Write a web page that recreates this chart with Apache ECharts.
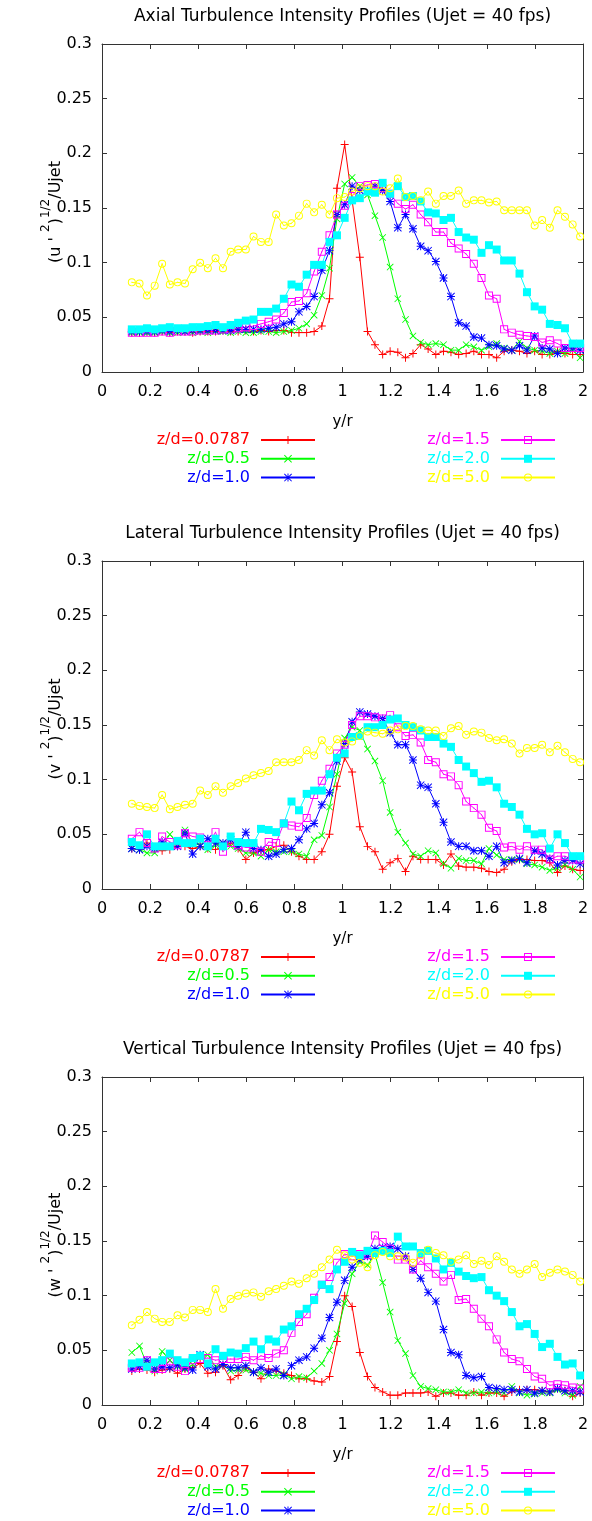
<!DOCTYPE html>
<html>
<head>
<meta charset="utf-8">
<script src="https://cdn.jsdelivr.net/npm/echarts/dist/echarts.min.js"></script>
<style>
html, body { margin: 0; padding: 0; background: #fff; }
#chart { width: 592px; height: 1521px; }
</style>
</head>
<body>
<div id="chart"></div>
<script>
// measurement positions y/r (same grid for every profile)
var xs = [
    0.124, 0.156, 0.187, 0.219, 0.250, 0.282, 0.314, 0.345, 0.377, 0.408,
    0.440, 0.472, 0.503, 0.535, 0.566, 0.598, 0.630, 0.661, 0.693, 0.724,
    0.756, 0.788, 0.819, 0.851, 0.882, 0.914, 0.946, 0.977, 1.009, 1.040,
    1.072, 1.104, 1.135, 1.167, 1.198, 1.230, 1.262, 1.293, 1.325, 1.356,
    1.388, 1.420, 1.451, 1.483, 1.514, 1.546, 1.578, 1.609, 1.641, 1.672,
    1.704, 1.736, 1.767, 1.799, 1.830, 1.862, 1.894, 1.925, 1.957, 1.988
];

var names = ['z/d=0.0787', 'z/d=0.5', 'z/d=1.0', 'z/d=1.5', 'z/d=2.0', 'z/d=5.0'];
var xTicks = [0, 0.2, 0.4, 0.6, 0.8, 1, 1.2, 1.4, 1.6, 1.8, 2];
var yTicks = [0, 0.05, 0.1, 0.15, 0.2, 0.25, 0.3];
var titles = [
    'Axial Turbulence Intensity Profiles (Ujet = 40 fps)',
    'Lateral Turbulence Intensity Profiles (Ujet = 40 fps)',
    'Vertical Turbulence Intensity Profiles (Ujet = 40 fps)'
];
var components = ['u', 'v', 'w'];

// axial (u')
var axialZ0787 = [
    0.036, 0.036, 0.037, 0.036, 0.037, 0.036, 0.037, 0.037, 0.036, 0.037,
    0.037, 0.037, 0.038, 0.037, 0.037, 0.038, 0.037, 0.038, 0.037, 0.038,
    0.038, 0.036, 0.036, 0.036, 0.037, 0.042, 0.067, 0.168, 0.208, 0.157,
    0.105, 0.037, 0.025, 0.016, 0.019, 0.018, 0.013, 0.017, 0.025, 0.021,
    0.016, 0.019, 0.018, 0.016, 0.017, 0.019, 0.016, 0.016, 0.013, 0.019,
    0.020, 0.019, 0.017, 0.019, 0.016, 0.016, 0.019, 0.017, 0.016, 0.016
];
var axialZ05 = [
    0.036, 0.036, 0.036, 0.036, 0.037, 0.036, 0.036, 0.037, 0.036, 0.037,
    0.036, 0.037, 0.037, 0.036, 0.037, 0.036, 0.036, 0.037, 0.037, 0.036,
    0.037, 0.038, 0.040, 0.044, 0.052, 0.070, 0.095, 0.140, 0.172, 0.178,
    0.170, 0.162, 0.143, 0.123, 0.096, 0.067, 0.048, 0.033, 0.027, 0.025,
    0.026, 0.025, 0.020, 0.020, 0.025, 0.023, 0.020, 0.023, 0.026, 0.022,
    0.020, 0.028, 0.022, 0.020, 0.019, 0.017, 0.019, 0.017, 0.020, 0.013
];
var axialZ10 = [
    0.037, 0.037, 0.037, 0.037, 0.038, 0.037, 0.038, 0.037, 0.038, 0.038,
    0.038, 0.038, 0.038, 0.038, 0.039, 0.039, 0.039, 0.039, 0.040, 0.041,
    0.044, 0.046, 0.055, 0.060, 0.069, 0.093, 0.111, 0.144, 0.153, 0.170,
    0.166, 0.166, 0.170, 0.166, 0.156, 0.132, 0.144, 0.131, 0.115, 0.111,
    0.101, 0.086, 0.069, 0.045, 0.042, 0.032, 0.031, 0.025, 0.024, 0.021,
    0.020, 0.024, 0.020, 0.033, 0.022, 0.021, 0.017, 0.022, 0.022, 0.020
];
var axialZ15 = [
    0.036, 0.036, 0.036, 0.036, 0.037, 0.036, 0.037, 0.037, 0.037, 0.038,
    0.038, 0.038, 0.039, 0.039, 0.040, 0.041, 0.042, 0.044, 0.046, 0.048,
    0.054, 0.064, 0.065, 0.072, 0.092, 0.110, 0.125, 0.144, 0.152, 0.161,
    0.170, 0.171, 0.172, 0.168, 0.163, 0.154, 0.149, 0.153, 0.144, 0.137,
    0.128, 0.128, 0.118, 0.113, 0.108, 0.099, 0.086, 0.070, 0.067, 0.039,
    0.036, 0.034, 0.033, 0.032, 0.027, 0.029, 0.026, 0.022, 0.022, 0.022
];
var axialZ20 = [
    0.039, 0.039, 0.040, 0.039, 0.040, 0.041, 0.040, 0.040, 0.041, 0.041,
    0.042, 0.043, 0.041, 0.043, 0.045, 0.047, 0.048, 0.055, 0.055, 0.058,
    0.067, 0.080, 0.078, 0.089, 0.098, 0.098, 0.119, 0.125, 0.141, 0.157,
    0.159, 0.165, 0.164, 0.173, 0.163, 0.170, 0.160, 0.161, 0.156, 0.146,
    0.145, 0.139, 0.141, 0.128, 0.123, 0.121, 0.109, 0.116, 0.112, 0.102,
    0.102, 0.090, 0.073, 0.060, 0.057, 0.044, 0.043, 0.040, 0.026, 0.026
];
var axialZ50 = [
    0.082, 0.081, 0.070, 0.079, 0.099, 0.080, 0.082, 0.081, 0.094, 0.100,
    0.095, 0.104, 0.095, 0.110, 0.112, 0.112, 0.124, 0.119, 0.119, 0.144,
    0.134, 0.136, 0.143, 0.154, 0.146, 0.153, 0.144, 0.159, 0.160, 0.165,
    0.168, 0.170, 0.170, 0.165, 0.168, 0.177, 0.160, 0.161, 0.157, 0.165,
    0.154, 0.161, 0.161, 0.166, 0.154, 0.157, 0.157, 0.155, 0.156, 0.148,
    0.148, 0.148, 0.148, 0.134, 0.139, 0.132, 0.148, 0.142, 0.135, 0.124
];

// lateral (v')
var lateralZ0787 = [
    0.037, 0.036, 0.042, 0.036, 0.035, 0.036, 0.039, 0.039, 0.037, 0.039,
    0.037, 0.036, 0.039, 0.042, 0.037, 0.027, 0.033, 0.035, 0.036, 0.039,
    0.040, 0.034, 0.030, 0.027, 0.027, 0.034, 0.050, 0.094, 0.120, 0.107,
    0.057, 0.039, 0.034, 0.018, 0.024, 0.028, 0.016, 0.030, 0.027, 0.027,
    0.027, 0.022, 0.032, 0.021, 0.020, 0.020, 0.019, 0.016, 0.015, 0.018,
    0.025, 0.027, 0.027, 0.026, 0.026, 0.024, 0.015, 0.021, 0.018, 0.017
];
var lateralZ05 = [
    0.037, 0.036, 0.033, 0.033, 0.039, 0.050, 0.042, 0.054, 0.042, 0.040,
    0.036, 0.040, 0.042, 0.039, 0.037, 0.033, 0.033, 0.030, 0.036, 0.034,
    0.034, 0.034, 0.032, 0.030, 0.045, 0.049, 0.075, 0.105, 0.138, 0.148,
    0.145, 0.128, 0.117, 0.099, 0.070, 0.052, 0.042, 0.032, 0.030, 0.035,
    0.033, 0.023, 0.019, 0.028, 0.026, 0.026, 0.023, 0.037, 0.031, 0.027,
    0.027, 0.027, 0.023, 0.022, 0.020, 0.017, 0.019, 0.022, 0.018, 0.011
];
var lateralZ10 = [
    0.037, 0.036, 0.039, 0.037, 0.043, 0.039, 0.039, 0.051, 0.032, 0.039,
    0.046, 0.042, 0.042, 0.045, 0.039, 0.052, 0.037, 0.036, 0.030, 0.032,
    0.036, 0.037, 0.045, 0.055, 0.060, 0.077, 0.088, 0.117, 0.133, 0.153,
    0.162, 0.160, 0.158, 0.156, 0.143, 0.132, 0.132, 0.118, 0.095, 0.093,
    0.078, 0.061, 0.043, 0.039, 0.039, 0.035, 0.035, 0.030, 0.039, 0.024,
    0.026, 0.028, 0.024, 0.035, 0.032, 0.028, 0.022, 0.026, 0.026, 0.023
];
var lateralZ15 = [
    0.046, 0.052, 0.042, 0.037, 0.048, 0.043, 0.040, 0.051, 0.048, 0.047,
    0.040, 0.052, 0.034, 0.042, 0.040, 0.038, 0.038, 0.034, 0.043, 0.042,
    0.060, 0.058, 0.057, 0.065, 0.086, 0.099, 0.110, 0.124, 0.132, 0.150,
    0.158, 0.158, 0.157, 0.156, 0.159, 0.148, 0.140, 0.141, 0.134, 0.118,
    0.116, 0.105, 0.103, 0.095, 0.080, 0.074, 0.068, 0.056, 0.053, 0.038,
    0.039, 0.036, 0.039, 0.036, 0.036, 0.027, 0.030, 0.030, 0.027, 0.027
];
var lateralZ20 = [
    0.043, 0.040, 0.050, 0.039, 0.039, 0.039, 0.044, 0.042, 0.042, 0.046,
    0.039, 0.046, 0.039, 0.048, 0.043, 0.042, 0.042, 0.055, 0.054, 0.052,
    0.060, 0.080, 0.072, 0.087, 0.090, 0.090, 0.105, 0.120, 0.124, 0.139,
    0.140, 0.148, 0.148, 0.150, 0.155, 0.156, 0.150, 0.148, 0.145, 0.139,
    0.139, 0.133, 0.130, 0.118, 0.112, 0.106, 0.098, 0.099, 0.093, 0.078,
    0.075, 0.068, 0.055, 0.050, 0.051, 0.037, 0.050, 0.042, 0.030, 0.030
];
var lateralZ50 = [
    0.078, 0.076, 0.075, 0.074, 0.086, 0.073, 0.075, 0.077, 0.078, 0.090,
    0.086, 0.094, 0.088, 0.094, 0.097, 0.101, 0.104, 0.106, 0.108, 0.116,
    0.116, 0.116, 0.118, 0.127, 0.122, 0.136, 0.127, 0.137, 0.134, 0.135,
    0.140, 0.144, 0.143, 0.142, 0.145, 0.146, 0.149, 0.149, 0.146, 0.145,
    0.145, 0.140, 0.147, 0.149, 0.141, 0.144, 0.143, 0.138, 0.136, 0.137,
    0.133, 0.124, 0.129, 0.129, 0.132, 0.125, 0.131, 0.125, 0.119, 0.116
];

// vertical (w')
var verticalZ0787 = [
    0.031, 0.033, 0.032, 0.030, 0.032, 0.033, 0.029, 0.033, 0.034, 0.038,
    0.029, 0.030, 0.036, 0.023, 0.027, 0.034, 0.030, 0.024, 0.033, 0.031,
    0.029, 0.027, 0.024, 0.024, 0.022, 0.021, 0.026, 0.058, 0.100, 0.090,
    0.048, 0.026, 0.016, 0.012, 0.009, 0.009, 0.011, 0.011, 0.011, 0.012,
    0.008, 0.011, 0.011, 0.009, 0.009, 0.012, 0.009, 0.011, 0.011, 0.008,
    0.012, 0.014, 0.014, 0.014, 0.013, 0.012, 0.015, 0.013, 0.008, 0.011
];
var verticalZ05 = [
    0.048, 0.054, 0.037, 0.031, 0.049, 0.041, 0.035, 0.033, 0.037, 0.044,
    0.046, 0.035, 0.037, 0.031, 0.032, 0.032, 0.030, 0.029, 0.027, 0.027,
    0.028, 0.024, 0.026, 0.025, 0.031, 0.038, 0.050, 0.065, 0.093, 0.120,
    0.131, 0.128, 0.138, 0.112, 0.085, 0.059, 0.047, 0.027, 0.017, 0.015,
    0.014, 0.012, 0.012, 0.014, 0.011, 0.011, 0.012, 0.011, 0.012, 0.011,
    0.017, 0.011, 0.009, 0.010, 0.011, 0.011, 0.014, 0.011, 0.009, 0.017
];
var verticalZ10 = [
    0.033, 0.035, 0.041, 0.033, 0.035, 0.034, 0.036, 0.034, 0.032, 0.046,
    0.035, 0.033, 0.037, 0.034, 0.034, 0.036, 0.030, 0.034, 0.030, 0.033,
    0.027, 0.036, 0.041, 0.044, 0.052, 0.061, 0.080, 0.094, 0.114, 0.126,
    0.133, 0.136, 0.143, 0.144, 0.145, 0.143, 0.136, 0.124, 0.116, 0.103,
    0.095, 0.069, 0.048, 0.046, 0.027, 0.025, 0.026, 0.016, 0.015, 0.014,
    0.014, 0.012, 0.014, 0.011, 0.013, 0.012, 0.015, 0.013, 0.013, 0.012
];
var verticalZ15 = [
    0.034, 0.034, 0.041, 0.033, 0.033, 0.040, 0.035, 0.031, 0.041, 0.042,
    0.043, 0.041, 0.042, 0.042, 0.042, 0.044, 0.041, 0.045, 0.043, 0.047,
    0.050, 0.066, 0.076, 0.083, 0.098, 0.110, 0.117, 0.130, 0.138, 0.136,
    0.138, 0.137, 0.155, 0.149, 0.143, 0.133, 0.133, 0.124, 0.132, 0.126,
    0.120, 0.113, 0.119, 0.096, 0.097, 0.088, 0.079, 0.072, 0.060, 0.048,
    0.042, 0.040, 0.033, 0.026, 0.024, 0.018, 0.019, 0.018, 0.016, 0.015
];
var verticalZ20 = [
    0.038, 0.039, 0.035, 0.039, 0.041, 0.047, 0.041, 0.039, 0.043, 0.045,
    0.038, 0.051, 0.045, 0.048, 0.047, 0.052, 0.058, 0.051, 0.060, 0.058,
    0.069, 0.072, 0.083, 0.088, 0.096, 0.110, 0.106, 0.124, 0.131, 0.140,
    0.137, 0.141, 0.139, 0.141, 0.139, 0.154, 0.145, 0.145, 0.139, 0.141,
    0.134, 0.124, 0.130, 0.122, 0.118, 0.116, 0.117, 0.105, 0.100, 0.095,
    0.085, 0.072, 0.074, 0.065, 0.053, 0.056, 0.044, 0.037, 0.038, 0.027
];
var verticalZ50 = [
    0.073, 0.078, 0.085, 0.079, 0.076, 0.076, 0.082, 0.080, 0.087, 0.087,
    0.085, 0.106, 0.088, 0.097, 0.100, 0.102, 0.103, 0.099, 0.104, 0.106,
    0.109, 0.113, 0.111, 0.116, 0.120, 0.126, 0.133, 0.142, 0.137, 0.133,
    0.130, 0.126, 0.137, 0.140, 0.136, 0.136, 0.135, 0.130, 0.137, 0.142,
    0.139, 0.137, 0.131, 0.133, 0.137, 0.129, 0.132, 0.128, 0.136, 0.131,
    0.124, 0.120, 0.124, 0.129, 0.117, 0.121, 0.124, 0.122, 0.119, 0.113
];

var panels = [
    [axialZ0787, axialZ05, axialZ10, axialZ15, axialZ20, axialZ50],
    [lateralZ0787, lateralZ05, lateralZ10, lateralZ15, lateralZ20, lateralZ50],
    [verticalZ0787, verticalZ05, verticalZ10, verticalZ15, verticalZ20, verticalZ50]
];

// gnuplot look
var FONT = 'DejaVu Sans';
var colors = ['#ff0000', '#00ff00', '#0000ff', '#ff00ff', '#00ffff', '#ffff00'];
var symbols = [
    'path://M4.4,0H5.6V4.4H10V5.6H5.6V10H4.4V5.6H0V4.4H4.4Z',
    'path://M0,0.85L0.85,0L10,9.15L9.15,10Z M9.15,0L10,0.85L0.85,10L0,9.15Z',
    'path://M4.4,0H5.6V10H4.4Z M0,4.4H10V5.6H0Z M0,0.85L0.85,0L10,9.15L9.15,10Z M9.15,0L10,0.85L0.85,10L0,9.15Z',
    'path://M0,0H10V10H0Z M1.2,1.2V8.8H8.8V1.2Z M4.4,4.4H5.6V5.6H4.4Z',
    'rect',
    'path://M5,0A5,5 0 1 1 5,10A5,5 0 1 1 5,0Z M5,1.2A3.8,3.8 0 1 0 5,8.8A3.8,3.8 0 1 0 5,1.2Z M4.4,4.4H5.6V5.6H4.4Z'
];
var symbolSizes = [8, 7, 8, 8, 8, 8];
var shifts = [0, 517, 1033];
var gridLeft = 102, gridTop = 44, gridWidth = 481, gridHeight = 328;
var frameColor = '#333';

function fmt(v, d) {
    return String(+v.toFixed(d));
}

function buildGrid(k) {
    return {
        left: gridLeft, top: gridTop + shifts[k], width: gridWidth, height: gridHeight,
        show: false, containLabel: false
    };
}

function buildXAxes(k) {
    let base = {
        type: 'value', gridIndex: k, min: 0, max: 2, interval: 0.2,
        axisLine: { show: true, onZero: false, lineStyle: { color: frameColor, width: 1 } },
        axisTick: { show: true, inside: true, length: 5, lineStyle: { color: frameColor } },
        splitLine: { show: false }
    };
    let bottom = Object.assign({}, base, {
        position: 'bottom',
        axisLabel: {
            margin: 12, color: '#000', fontSize: 16, fontFamily: FONT,
            formatter: function (v) { return xTicks.indexOf(+v.toFixed(1)) >= 0 ? fmt(v, 1) : ''; }
        }
    });
    let top = Object.assign({}, base, { position: 'top', axisLabel: { show: false } });
    return [bottom, top];
}

function buildYAxes(k) {
    let base = {
        type: 'value', gridIndex: k, min: 0, max: 0.3, interval: 0.05,
        axisLine: { show: true, onZero: false, lineStyle: { color: frameColor, width: 1 } },
        axisTick: { show: true, inside: true, length: 5, lineStyle: { color: frameColor } },
        splitLine: { show: false }
    };
    let left = Object.assign({}, base, {
        position: 'left',
        axisLabel: {
            margin: 10, color: '#000', fontSize: 16, fontFamily: FONT,
            formatter: function (v) { return yTicks.indexOf(+v.toFixed(2)) >= 0 ? fmt(v, 2) : ''; }
        }
    });
    let right = Object.assign({}, base, { position: 'right', axisLabel: { show: false } });
    return [left, right];
}

function buildSeries(k) {
    return panels[k].map(function (values, i) {
        return {
            type: 'line',
            name: names[i],
            xAxisIndex: 2 * k,
            yAxisIndex: 2 * k,
            data: xs.map(function (x, j) { return [x, values[j]]; }),
            symbol: symbols[i],
            symbolSize: symbolSizes[i],
            showAllSymbol: true,
            lineStyle: { color: colors[i], width: 1 },
            itemStyle: { color: colors[i], borderWidth: 0 },
            emphasis: { disabled: true },
            silent: true,
            animation: false
        };
    });
}

function buildLegend(k, from, right) {
    return {
        orient: 'vertical',
        align: 'right',
        right: right,
        top: 430.6 + shifts[k],
        padding: 0,
        itemGap: 0,
        itemWidth: 54,
        itemHeight: 10,
        selectedMode: false,
        data: names.slice(from, from + 3).map(function (n, j) {
            return { name: n, textStyle: { color: colors[from + j] } };
        }),
        textStyle: { fontSize: 16, fontFamily: FONT, lineHeight: 18.8, padding: [0, 6, 0, 0] }
    };
}

function buildTexts(k) {
    let s = shifts[k];
    let c = components[k];
    return [
        {
            type: 'text', x: 342.5, y: 17 + s, silent: true,
            style: {
                text: titles[k], fill: '#000', fontSize: 17, fontFamily: FONT,
                align: 'center', verticalAlign: 'middle', textAlign: 'center', textVerticalAlign: 'middle'
            }
        },
        {
            type: 'text', x: 342.5, y: 421.7 + s, silent: true,
            style: {
                text: 'y/r', fill: '#000', fontSize: 15, fontFamily: FONT,
                align: 'center', verticalAlign: 'middle', textAlign: 'center', textVerticalAlign: 'middle'
            }
        },
        {
            type: 'text', x: 52, y: 212 + s, rotation: Math.PI / 2, silent: true,
            style: {
                text: '{m|(' + c + ' \' }{s|2}{m|)}{s|1/2}{m|/Ujet}',
                fill: '#000', fontFamily: FONT,
                align: 'center', verticalAlign: 'middle', textAlign: 'center', textVerticalAlign: 'middle',
                rich: {
                    m: { fontSize: 16, fontFamily: FONT, lineHeight: 24, verticalAlign: 'bottom', fill: '#000' },
                    s: { fontSize: 12, fontFamily: FONT, lineHeight: 14, verticalAlign: 'top', fill: '#000' }
                }
            }
        }
    ];
}

var chart = echarts.init(document.getElementById('chart'), null, { renderer: 'canvas' });

var option = {
    animation: false,
    backgroundColor: '#fff',
    grid: [],
    xAxis: [],
    yAxis: [],
    series: [],
    legend: [],
    graphic: { elements: [] }
};

for (let k = 0; k < 3; k++) {
    option.grid.push(buildGrid(k));
    option.xAxis = option.xAxis.concat(buildXAxes(k));
    option.yAxis = option.yAxis.concat(buildYAxes(k));
    option.series = option.series.concat(buildSeries(k));
    option.legend.push(buildLegend(k, 0, 276));
    option.legend.push(buildLegend(k, 3, 36));
    option.graphic.elements = option.graphic.elements.concat(buildTexts(k));
}

chart.setOption(option);
</script>
</body>
</html>
